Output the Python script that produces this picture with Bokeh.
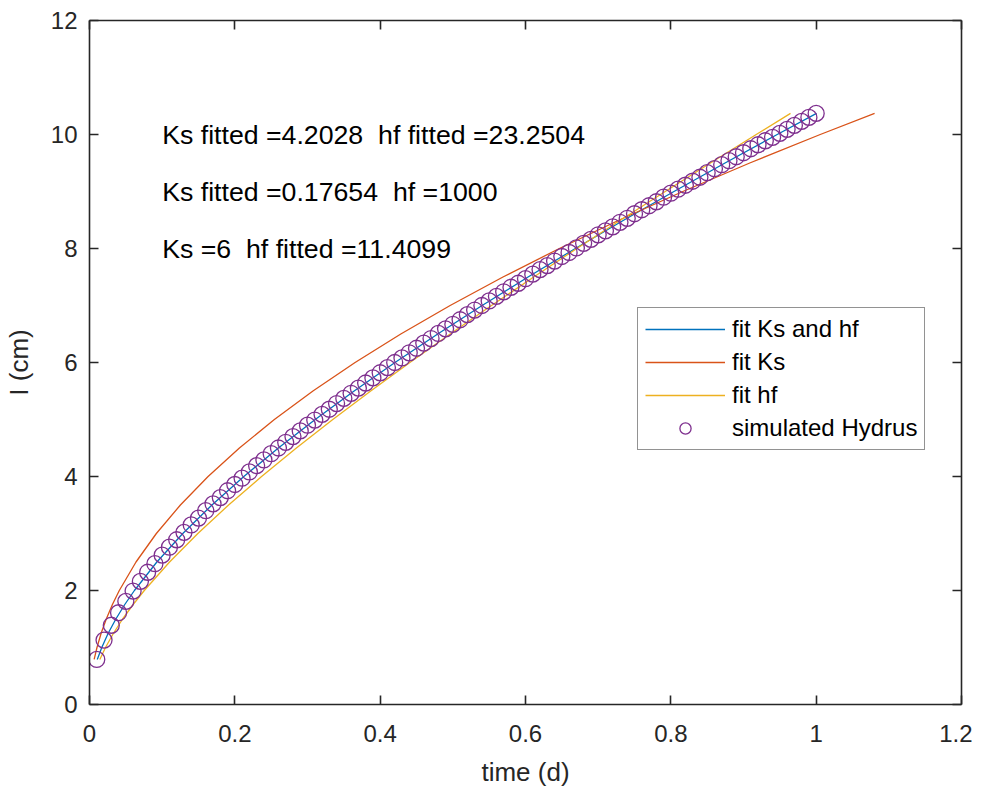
from bokeh.plotting import figure
from bokeh.models import FixedTicker, LinearAxis, Legend, LegendItem, Range1d
from bokeh.embed import file_html
from bokeh.resources import INLINE
from bokeh.core.properties import value

# ---- data -------------------------------------------------------------
t_sim = [0.01, 0.02, 0.03, 0.04, 0.05, 0.06, 0.07, 0.08, 0.09, 0.10,
         0.11, 0.12, 0.13, 0.14, 0.15, 0.16, 0.17, 0.18, 0.19, 0.20,
         0.21, 0.22, 0.23, 0.24, 0.25, 0.26, 0.27, 0.28, 0.29, 0.30,
         0.31, 0.32, 0.33, 0.34, 0.35, 0.36, 0.37, 0.38, 0.39, 0.40,
         0.41, 0.42, 0.43, 0.44, 0.45, 0.46, 0.47, 0.48, 0.49, 0.50,
         0.51, 0.52, 0.53, 0.54, 0.55, 0.56, 0.57, 0.58, 0.59, 0.60,
         0.61, 0.62, 0.63, 0.64, 0.65, 0.66, 0.67, 0.68, 0.69, 0.70,
         0.71, 0.72, 0.73, 0.74, 0.75, 0.76, 0.77, 0.78, 0.79, 0.80,
         0.81, 0.82, 0.83, 0.84, 0.85, 0.86, 0.87, 0.88, 0.89, 0.90,
         0.91, 0.92, 0.93, 0.94, 0.95, 0.96, 0.97, 0.98, 0.99, 1.00]
I_sim = [0.79, 1.13, 1.39, 1.61, 1.81, 1.99, 2.16, 2.32, 2.47, 2.62,
         2.76, 2.89, 3.02, 3.15, 3.27, 3.40, 3.52, 3.63, 3.75, 3.86,
         3.97, 4.08, 4.19, 4.29, 4.40, 4.50, 4.60, 4.70, 4.80, 4.90,
         4.99, 5.09, 5.18, 5.28, 5.37, 5.46, 5.55, 5.64, 5.73, 5.82,
         5.91, 6.00, 6.08, 6.17, 6.25, 6.34, 6.42, 6.51, 6.59, 6.67,
         6.75, 6.84, 6.92, 7.00, 7.08, 7.16, 7.24, 7.32, 7.39, 7.47,
         7.55, 7.63, 7.70, 7.78, 7.86, 7.93, 8.01, 8.09, 8.16, 8.24,
         8.31, 8.38, 8.46, 8.53, 8.61, 8.68, 8.75, 8.82, 8.90, 8.97,
         9.04, 9.11, 9.18, 9.25, 9.33, 9.40, 9.47, 9.54, 9.61, 9.68,
         9.75, 9.82, 9.89, 9.95, 10.02, 10.09, 10.16, 10.23, 10.30, 10.37]

I_fit = [0.79, 1.0, 1.25, 1.5, 1.75, 2.0, 2.5, 3.0, 3.5, 4.0, 4.5, 5.0,
         5.5, 6.0, 6.5, 7.0, 7.5, 8.0, 8.5, 9.0, 9.5, 10.0, 10.37]
t_fit_both = [0.0107, 0.0169, 0.0257, 0.0363, 0.0483, 0.0618, 0.0927, 0.1284,
              0.1685, 0.2124, 0.2599, 0.3106, 0.3642, 0.4204, 0.4792, 0.5403,
              0.6035, 0.6686, 0.7356, 0.8043, 0.8746, 0.9464, 1.0005]
t_fit_ks = [0.0064, 0.0103, 0.0160, 0.0231, 0.0314, 0.0410, 0.0640, 0.0920,
            0.1251, 0.1632, 0.2063, 0.2544, 0.3075, 0.3655, 0.4284, 0.4963,
            0.5690, 0.6466, 0.7291, 0.8165, 0.9086, 1.0056, 1.0804]
t_fit_hf = [0.0142, 0.0220, 0.0330, 0.0456, 0.0598, 0.0754, 0.1102, 0.1491,
            0.1914, 0.2368, 0.2847, 0.3348, 0.3870, 0.4409, 0.4963, 0.5532,
            0.6113, 0.6706, 0.7310, 0.7923, 0.8545, 0.9175, 0.9647]

series_labels = ["fit Ks and hf", "fit Ks", "fit hf", "simulated Hydrus"]
notes = ["Ks fitted =4.2028\u00a0 hf fitted =23.2504",
         "Ks fitted =0.17654\u00a0 hf =1000",
         "Ks =6\u00a0 hf fitted =11.4099"]
note_x = [0.1, 0.1, 0.1]
note_y = [10, 9, 8]

x_ticks = [0, 0.2, 0.4, 0.6, 0.8, 1.0, 1.2]
x_tick_labels = ["0", "0.2", "0.4", "0.6", "0.8", "1", "1.2"]
y_ticks = [0, 2, 4, 6, 8, 10, 12]
y_tick_labels = ["0", "2", "4", "6", "8", "10", "12"]

# ---- styling ----------------------------------------------------------
FONT = "Liberation Sans"
AX = "#262626"
C_BLUE = "#0072BD"
C_RED = "#D95319"
C_YEL = "#EDB120"
C_PUR = "#7E2F8E"

p = figure(frame_width=872, frame_height=684,
           x_range=Range1d(0, 1.2), y_range=Range1d(0, 12),
           output_backend="svg", toolbar_location=None,
           min_border_left=82, min_border_right=11,
           min_border_top=20, min_border_bottom=80)
p.grid.visible = False
p.outline_line_color = None
p.background_fill_color = "white"
p.border_fill_color = "white"

bottom_ax = p.xaxis[0]
left_ax = p.yaxis[0]

r1 = p.line(t_fit_both, I_fit, line_color=C_BLUE, line_width=1.3)
r2 = p.line(t_fit_ks, I_fit, line_color=C_RED, line_width=1.3)
r3 = p.line(t_fit_hf, I_fit, line_color=C_YEL, line_width=1.3)
r4 = p.scatter(t_sim, I_sim, marker="circle", size=16, fill_color=None,
               line_color=C_PUR, line_width=1.3)

p.text(x=note_x, y=note_y, text=notes, text_font=value(FONT),
       text_font_size="26.7px", text_align="left", text_baseline="middle",
       text_color="black")

top_ax = LinearAxis()
right_ax = LinearAxis()
p.add_layout(top_ax, "above")
p.add_layout(right_ax, "right")

for ax, ticks, labels in [(bottom_ax, x_ticks, x_tick_labels),
                          (top_ax, x_ticks, None),
                          (left_ax, y_ticks, y_tick_labels),
                          (right_ax, y_ticks, None)]:
    ax.ticker = FixedTicker(ticks=ticks)
    if labels is not None:
        ax.major_label_overrides = {t: l for t, l in zip(ticks, labels)}
        ax.major_label_text_font = FONT
        ax.major_label_text_font_size = "24px"
        ax.major_label_text_color = AX
    else:
        ax.major_label_overrides = {t: "" for t in ticks}
        ax.major_label_standoff = 0
        ax.major_label_text_font_size = "1px"
    ax.axis_line_color = AX
    ax.axis_line_width = 1.6
    ax.major_tick_line_color = AX
    ax.major_tick_line_width = 1.6
    ax.major_tick_in = 9
    ax.major_tick_out = 0
    ax.minor_tick_line_color = None

bottom_ax.axis_label = "time (d)"
left_ax.axis_label = "I (cm)"
for ax in (bottom_ax, left_ax):
    ax.axis_label_text_font = FONT
    ax.axis_label_text_font_size = "26px"
    ax.axis_label_text_font_style = "normal"
    ax.axis_label_text_color = AX
bottom_ax.major_label_standoff = 20
bottom_ax.axis_label_standoff = 12
left_ax.major_label_standoff = 12
left_ax.axis_label_standoff = 14

legend = Legend(items=[LegendItem(label=series_labels[0], renderers=[r1]),
                       LegendItem(label=series_labels[1], renderers=[r2]),
                       LegendItem(label=series_labels[2], renderers=[r3]),
                       LegendItem(label=series_labels[3], renderers=[r4])],
                location=(548, 254), glyph_width=80, glyph_height=28,
                label_standoff=7, spacing=5, padding=7, margin=0,
                border_line_color=AX, border_line_width=1,
                label_text_font=FONT, label_text_font_size="24px",
                label_text_color="black", background_fill_color="white",
                background_fill_alpha=1)
p.add_layout(legend)

open("out.html", "w").write(file_html(p, INLINE))
